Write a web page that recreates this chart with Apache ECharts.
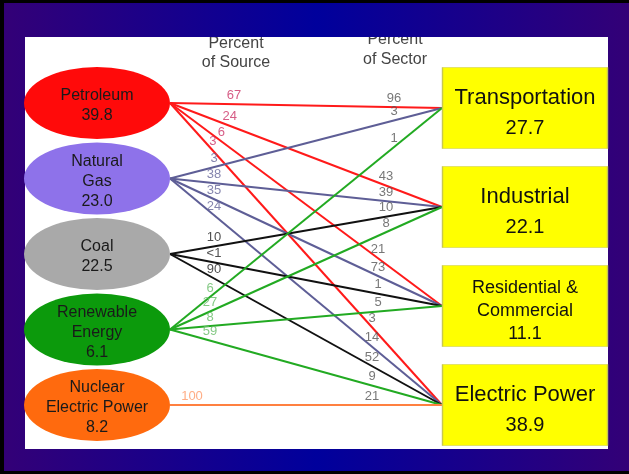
<!DOCTYPE html>
<html lang="en">
<head>
    <meta charset="UTF-8">
    <title>Energy flow by source and sector</title>
    <script src="https://cdn.jsdelivr.net/npm/echarts@6/dist/echarts.min.js"></script>
    <style>
        html, body { margin: 0; padding: 0; background: #000; }
        #chart { width: 629px; height: 474px; }
    </style>
</head>
<body>
<div id="chart"></div>
<script>
    // data
    var sources = ['Petroleum', 'Natural\nGas', 'Coal', 'Renewable\nEnergy', 'Nuclear\nElectric Power'];
    var sourceTotals = ['39.8', '23.0', '22.5', '6.1', '8.2'];
    var sectors = ['Transportation', 'Industrial', 'Residential &\nCommercial', 'Electric Power'];
    var sectorTotals = ['27.7', '22.1', '11.1', '38.9'];
    // one entry per line: source index, sector index, percent of source, percent of sector
    var linkSource = [0, 0, 0, 0, 1, 1, 1, 1, 2, 2, 2, 3, 3, 3, 3, 4];
    var linkSector = [0, 1, 2, 3, 0, 1, 2, 3, 1, 2, 3, 0, 1, 2, 3, 3];
    var pctOfSource = ['67', '24', '6', '3', '3', '38', '35', '24', '10', '<1', '90', '6', '27', '8', '59', '100'];
    var pctOfSector = ['96', '43', '21', '3', '3', '39', '73', '14', '10', '1', '52', '1', '8', '5', '9', '21'];

    var srcColors = ['#ff0a0a', '#8e72ea', '#a9a9a9', '#0c9a0c', '#ff6a0e'];
    var lineColors = ['#ff1a1a', '#5e5e96', '#111111', '#22aa22', '#ff8040'];
    var srcLabelColors = ['#cc3366', '#66669a', '#222222', '#66bb66', '#ff9966'];
    var font = 'Liberation Sans, Arial, sans-serif';

    // layout (pixels, the grid maps 1 unit to 1 px)
    var srcX = 97, srcAnchor = 170;
    function srcY(i) { return 103 + i * 75.5; }
    var boxX = 525, boxAnchor = 442;
    function boxY(j) { return 108 + j * 99; }
    var srcLabelDx = [0, 44, 44, 40, 22];   // 0 = place by distance along the line
    var secLabelDx = [48, 56, 64, 70];

    function lineY(k, x) {
        var y0 = srcY(linkSource[k]), y1 = boxY(linkSector[k]);
        return y0 + (y1 - y0) * (x - srcAnchor) / (boxAnchor - srcAnchor);
    }

    var lineData = [], srcLabels = [], secLabels = [];
    for (var k = 0; k < linkSource.length; k++) {
        var s = linkSource[k], t = linkSector[k];
        lineData.push({
            coords: [[srcAnchor, srcY(s)], [boxAnchor, boxY(t)]],
            lineStyle: { color: lineColors[s] }
        });
        var dx = srcLabelDx[s];
        if (!dx) {
            var slope = (boxY(t) - srcY(s)) / (boxAnchor - srcAnchor);
            dx = 64 / Math.sqrt(1 + slope * slope);
        }
        var xs = srcAnchor + dx;
        srcLabels.push({ value: [xs, lineY(k, xs) - 9, pctOfSource[k]], label: { color: srcLabelColors[s] } });
        var xt = boxAnchor - secLabelDx[t];
        secLabels.push({ value: [xt, lineY(k, xt) - 9, pctOfSector[k]] });
    }

    var ellipseData = sources.map(function (n, i) {
        return { value: [srcX, srcY(i)], itemStyle: { color: srcColors[i] } };
    });
    var boxData = sectors.map(function (n, j) {
        var item = { value: [boxX, boxY(j)] };
        if (j === 2) {
            item.label = { rich: { n: { fontSize: 18, lineHeight: 23 }, v: { fontSize: 18, lineHeight: 23 } } };
        }
        return item;
    });

    var grad = new echarts.graphic.LinearGradient(0, 0, 1, 0, [
        { offset: 0, color: '#330077' },
        { offset: 0.5, color: '#00009c' },
        { offset: 1, color: '#330077' }
    ]);

    var myChart = echarts.init(document.getElementById('chart'));
    var option = {
        animation: false,
        graphic: [
            { type: 'rect', shape: { x: 0, y: 0, width: 629, height: 474 }, style: { fill: '#000' } },
            { type: 'rect', shape: { x: 4, y: 3, width: 625, height: 468 }, style: { fill: grad } },
            { type: 'rect', shape: { x: 25, y: 37, width: 583, height: 412 }, style: { fill: '#fff' } },
            {
                type: 'text', x: 236, y: 53,
                style: { text: 'Percent\nof Source', font: '16px ' + font, fill: '#444', align: 'center', verticalAlign: 'middle', lineHeight: 19 }
            },
            {
                type: 'text', x: 395, y: 50,
                style: { text: 'Percent\nof Sector', font: '16px ' + font, fill: '#444', align: 'center', verticalAlign: 'middle', lineHeight: 20 }
            },
            // blue band over the top of the header text
            { type: 'rect', shape: { x: 4, y: 3, width: 625, height: 34 }, style: { fill: grad } }
        ],
        grid: { left: 0, right: 0, top: 0, bottom: 0 },
        xAxis: { type: 'value', min: 0, max: 629, show: false },
        yAxis: { type: 'value', min: 0, max: 474, inverse: true, show: false },
        series: [
            {
                type: 'lines',
                coordinateSystem: 'cartesian2d',
                z: 2,
                lineStyle: { width: 2, opacity: 1 },
                data: lineData
            },
            {
                type: 'scatter',
                z: 3,
                symbol: 'path://M0,50 A50,50 0 1,1 100,50 A50,50 0 1,1 0,50 Z',
                symbolSize: [146, 72],
                itemStyle: { opacity: 1 },
                data: ellipseData,
                label: {
                    show: true,
                    position: 'inside',
                    offset: [0, 3],
                    formatter: function (p) {
                        return '{n|' + sources[p.dataIndex].split('\n').join('}\n{n|') + '}\n{v|' + sourceTotals[p.dataIndex] + '}';
                    },
                    rich: {
                        n: { fontSize: 16, lineHeight: 20, color: '#1a1a1a', fontFamily: font },
                        v: { fontSize: 16, lineHeight: 20, color: '#1a1a1a', fontFamily: font }
                    }
                }
            },
            {
                type: 'scatter',
                z: 3,
                symbol: 'rect',
                symbolSize: [165, 81],
                itemStyle: { color: '#ffff00', borderColor: '#c8c850', borderWidth: 1, opacity: 1 },
                data: boxData,
                label: {
                    show: true,
                    position: 'inside',
                    offset: [0, 5],
                    formatter: function (p) {
                        return '{n|' + sectors[p.dataIndex].split('\n').join('}\n{n|') + '}\n{v|' + sectorTotals[p.dataIndex] + '}';
                    },
                    rich: {
                        n: { fontSize: 22, lineHeight: 30, color: '#111', fontFamily: font },
                        v: { fontSize: 20, lineHeight: 30, color: '#111', fontFamily: font }
                    }
                }
            },
            {
                type: 'scatter',
                z: 4,
                symbolSize: 1,
                itemStyle: { color: 'rgba(0,0,0,0)' },
                data: srcLabels,
                label: {
                    show: true, position: 'inside', fontSize: 13, fontFamily: font,
                    formatter: function (p) { return p.value[2]; }
                }
            },
            {
                type: 'scatter',
                z: 4,
                symbolSize: 1,
                itemStyle: { color: 'rgba(0,0,0,0)' },
                data: secLabels,
                label: {
                    show: true, position: 'inside', fontSize: 13, fontFamily: font, color: '#555',
                    formatter: function (p) { return p.value[2]; }
                }
            }
        ]
    };
    myChart.setOption(option);
</script>
</body>
</html>
